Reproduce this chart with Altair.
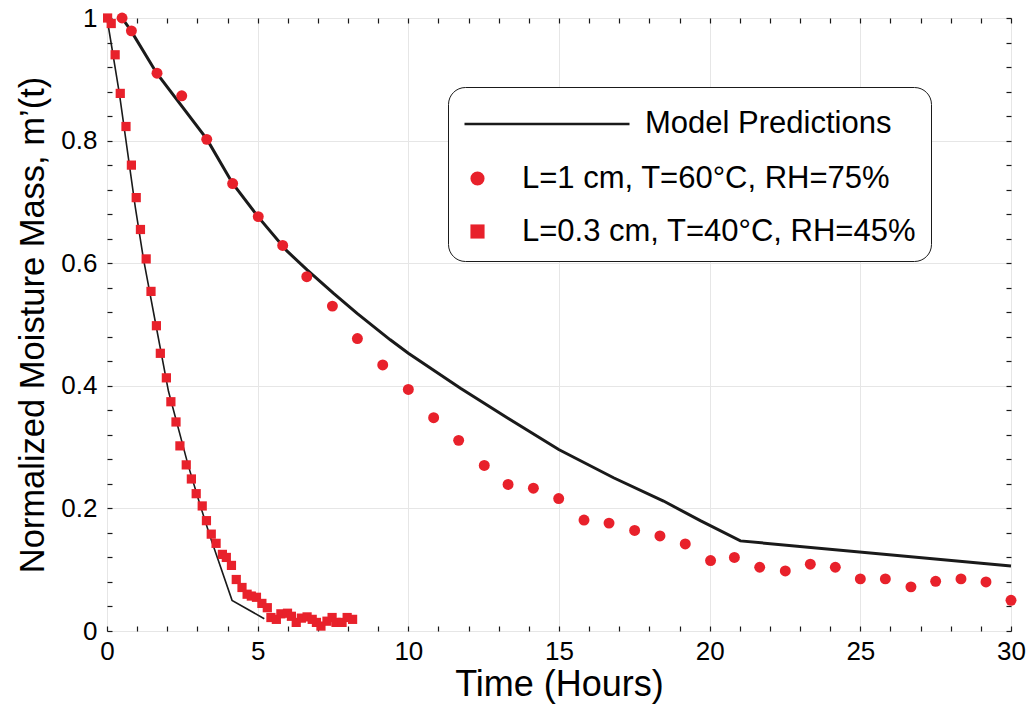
import altair as alt
import pandas as pd

# ---------------- data ----------------
circle_t = [0.5, 0.81, 1.66, 2.48, 3.31, 4.17, 5.02, 5.83, 6.63, 7.48, 8.31, 9.15, 10.0, 10.84,
            11.67, 12.52, 13.31, 14.15, 14.99, 15.83, 16.66, 17.51, 18.35, 19.19, 20.03, 20.82,
            21.66, 22.51, 23.34, 24.17, 25.0, 25.83, 26.68, 27.5, 28.34, 29.17, 30.0]
circle_m = [1.0, 0.979, 0.910, 0.873, 0.802, 0.730, 0.676, 0.629, 0.578, 0.530, 0.477, 0.434,
            0.394, 0.348, 0.311, 0.270, 0.239, 0.233, 0.216, 0.181, 0.176, 0.164, 0.155, 0.142,
            0.115, 0.120, 0.104, 0.098, 0.109, 0.104, 0.085, 0.085, 0.072, 0.081, 0.085, 0.080,
            0.050]

square_t = [0.02, 0.14, 0.27, 0.44, 0.63, 0.81, 0.97, 1.11, 1.30, 1.46, 1.64, 1.77, 1.97, 2.12,
            2.29, 2.42, 2.63, 2.80, 2.96, 3.16, 3.30, 3.46, 3.62, 3.83, 3.96, 4.13, 4.29, 4.48,
            4.65, 4.79, 4.96, 5.14, 5.32, 5.44, 5.62, 5.77, 5.99, 6.12, 6.28, 6.45, 6.64, 6.81,
            6.95, 7.10, 7.30, 7.47, 7.60, 7.80, 7.97, 8.15]
square_m = [1.0, 0.991, 0.940, 0.877, 0.823, 0.760, 0.707, 0.655, 0.607, 0.554, 0.498, 0.453,
            0.413, 0.374, 0.341, 0.302, 0.271, 0.248, 0.224, 0.204, 0.180, 0.158, 0.143, 0.125,
            0.120, 0.107, 0.084, 0.071, 0.060, 0.057, 0.055, 0.045, 0.038, 0.022, 0.019, 0.028,
            0.029, 0.024, 0.014, 0.021, 0.023, 0.019, 0.014, 0.008, 0.016, 0.022, 0.014, 0.014,
            0.022, 0.019]

model1_t = [0.5, 0.80, 1.65, 3.32, 4.17, 5.01, 5.97, 6.64, 7.51, 8.30, 9.40, 10.0, 11.73, 13.28,
            14.99, 16.81, 18.47, 19.69, 21.02, 30.0]
model1_m = [1.0, 0.979, 0.910, 0.802, 0.730, 0.676, 0.620, 0.589, 0.551, 0.518, 0.475, 0.453,
            0.396, 0.348, 0.296, 0.250, 0.212, 0.180, 0.147, 0.106]

model2_t = [0.0, 0.41, 0.94, 1.21, 1.62, 2.04, 2.69, 3.10, 3.43, 4.15, 5.22]
model2_m = [1.0, 0.877, 0.691, 0.607, 0.500, 0.391, 0.271, 0.204, 0.153, 0.050, 0.020]

x_major = [0, 5, 10, 15, 20, 25, 30]
x_minor = list(range(0, 31))
y_major = [0, 0.2, 0.4, 0.6, 0.8, 1.0]
y_minor = [round(i * 0.04, 2) for i in range(26)]

lab1 = "L=1 cm, T=60°C, RH=75%"
lab2 = "L=0.3 cm, T=40°C, RH=45%"
model_lab = "Model Predictions"

# ---------------- tables ----------------
circles = pd.DataFrame({"t": circle_t, "m": circle_m, "series": lab1})
squares = pd.DataFrame({"t": square_t, "m": square_m, "series": lab2})
model = pd.concat([
    pd.DataFrame({"t": model1_t, "m": model1_m, "curve": "c1", "key": model_lab}),
    pd.DataFrame({"t": model2_t, "m": model2_m, "curve": "c2", "key": model_lab}),
])

RED = "#e8212b"
INK = "#1a1a1a"
FONT = "Liberation Sans"
W, H = 904, 613
PAD_L, PAD_T = 99, 10

xs = alt.Scale(domain=[0, 30], nice=False, zero=False)
ys = alt.Scale(domain=[0, 1], nice=False, zero=False)

shape_scale = alt.Scale(domain=[lab1, lab2], range=["circle", "square"])
pts_legend = alt.Legend(
    orient="none", legendX=341, legendY=69,
    title="\u00a0", titleFontSize=30, titleFontWeight="normal",
    titleColor="black", titleFont=FONT, titleLimit=1000, titlePadding=32,
    labelFontSize=31, labelFont=FONT, labelColor="black", labelLimit=1000,
    labelOffset=29, rowPadding=21,
    symbolSize=200, symbolFillColor=RED, symbolStrokeWidth=0, symbolOpacity=1,
    strokeColor=INK, fillColor="white", cornerRadius=17, padding=14, zindex=0,
)

line_legend = alt.Legend(
    orient="none", legendX=356, legendY=22, title=None, zindex=2,
    symbolType="stroke", symbolSize=165 * 165, symbolStrokeWidth=2.5, symbolStrokeColor=INK,
    labelFontSize=31, labelFont=FONT, labelColor="black", labelLimit=1000, labelOffset=14,
    padding=0,
)

# Layer A: model lines + main axes (labels, titles, grid)
lines = alt.Chart(model).mark_line().encode(
    x=alt.X("t:Q", scale=xs, axis=alt.Axis(
        orient="bottom", values=x_major, format="d", ticks=False, domain=False,
        grid=True, gridColor="#e6e6e6", gridWidth=1, labelFlush=False,
        labelFontSize=26, labelFont=FONT, labelColor="black", labelPadding=7,
        title="Time (Hours)", titleFontSize=36, titleFont=FONT, titleFontWeight="normal",
        titleColor="black", titlePadding=3)),
    y=alt.Y("m:Q", scale=ys, axis=alt.Axis(
        orient="left", values=y_major, format="~g", ticks=False, domain=False,
        grid=True, gridColor="#e6e6e6", gridWidth=1, labelFlush=False,
        labelFontSize=26, labelFont=FONT, labelColor="black", labelPadding=10,
        title="Normalized Moisture Mass, m’(t)", titleFontSize=34.5, titleFont=FONT,
        titleFontWeight="normal", titleColor="black", titlePadding=10)),
    detail="curve:N",
    stroke=alt.Stroke("key:N", scale=alt.Scale(domain=[model_lab], range=[INK]),
                      legend=line_legend),
    strokeWidth=alt.StrokeWidth("curve:N", scale=alt.Scale(domain=["c1", "c2"], range=[3, 1.6]),
                                legend=None),
)

# Layer B: circles + inward ticks on bottom and left edges
circ = alt.Chart(circles).mark_point(filled=True, color=RED, opacity=1, size=120).encode(
    x=alt.X("t:Q", scale=xs, axis=alt.Axis(
        orient="top", offset=-H, values=x_minor, labels=False, domain=False, grid=False,
        ticks=True, tickSize=5, tickColor=INK, tickWidth=1.2, title=None)),
    y=alt.Y("m:Q", scale=ys, axis=alt.Axis(
        orient="right", offset=-W, values=y_minor, labels=False, domain=False, grid=False,
        ticks=True, tickSize=5, tickColor=INK, tickWidth=1.2, title=None)),
    shape=alt.Shape("series:N", scale=shape_scale, legend=pts_legend),
)

# Layer C: squares + inward ticks on top and right edges
sq = alt.Chart(squares).mark_point(filled=True, color=RED, opacity=1, size=85).encode(
    x=alt.X("t:Q", scale=xs, axis=alt.Axis(
        orient="bottom", offset=-H, values=x_minor, labels=False, domain=False, grid=False,
        ticks=True, tickSize=5, tickColor=INK, tickWidth=1.2, title=None)),
    y=alt.Y("m:Q", scale=ys, axis=alt.Axis(
        orient="left", offset=-W, values=y_minor, labels=False, domain=False, grid=False,
        ticks=True, tickSize=5, tickColor=INK, tickWidth=1.2, title=None)),
    shape=alt.Shape("series:N", scale=shape_scale, legend=pts_legend),
)

chart = alt.layer(lines, circ, sq).resolve_axis(x="independent", y="independent").properties(
    width=W, height=H,
    autosize=alt.AutoSizeParams(type="none"),
    padding={"left": PAD_L, "top": PAD_T, "right": 15, "bottom": 73},
).configure_view(stroke=INK, strokeWidth=1.5).configure_legend(strokeWidth=1.6).configure(
    background="white")

chart.save("out.html", embed_options={"renderer": "svg", "actions": False})
